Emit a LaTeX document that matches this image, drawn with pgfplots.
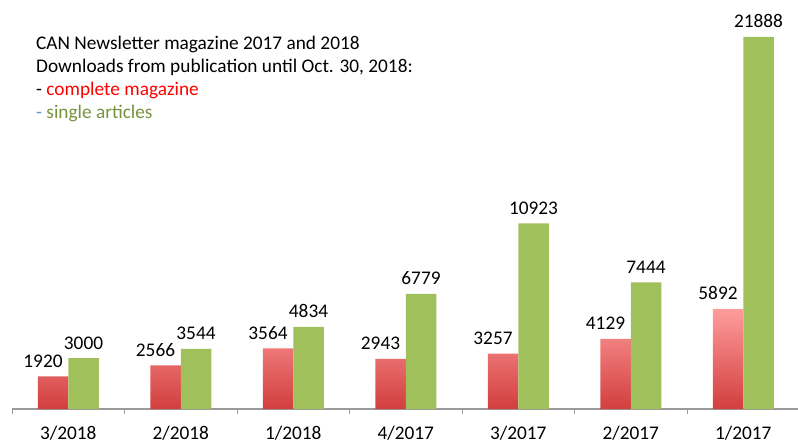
\documentclass[border=0pt]{standalone}
\usepackage{pgfplots}
\pgfplotsset{compat=1.18}
\usepackage{fontspec}
\setmainfont{Carlito}
\definecolor{barredtop}{HTML}{FF9C9C}
\definecolor{barredbot}{HTML}{D23E3E}
\definecolor{bargreen}{HTML}{9FC05A}
\definecolor{axisgray}{HTML}{9A9A9A}
\definecolor{txtred}{HTML}{FF0000}
\definecolor{txtgreen}{HTML}{77933C}
\definecolor{txtblue}{HTML}{4F9BD9}
\begin{document}
\begin{tikzpicture}[x=1pt,y=1pt]
\useasboundingbox (0,0) rectangle (798,445);
\begin{axis}[
  at={(12pt,36pt)}, anchor=south west,
  scale only axis, width=786pt, height=409pt,
  xmin=-0.5, xmax=6.4867, ymin=0, ymax=24064,
  hide y axis,
  axis x line*=bottom,
  x axis line style={-, draw=axisgray, line width=1.5pt},
  xtick={0,...,6},
  xticklabels={3/2018,2/2018,1/2018,4/2017,3/2017,2/2017,1/2017},
  major tick length=0pt,
  extra x ticks={-0.5,0.5,1.5,2.5,3.5,4.5,5.5},
  extra x tick labels={},
  extra x tick style={major tick length=5pt, tick align=outside, tick style={draw=axisgray, line width=1pt}},
  xticklabel style={font=\fontsize{19.3}{22}\selectfont, anchor=base, yshift=-30pt},
  ybar, ybar=0pt, bar width=30.5pt,
  clip=false,
  /pgf/number format/assume math mode=true,
  /pgf/number format/1000 sep={},
  nodes near coords,
  every node near coord/.append style={font=\fontsize{19.3}{22}\selectfont, text=black, anchor=base, yshift=9pt},
]
\addplot[draw=none, top color=barredtop, bottom color=barredbot,
  every node near coord/.append style={xshift=-10pt}]
  coordinates {(0,1920) (1,2566) (2,3564) (3,2943) (4,3257) (5,4129) (6,5892)};
\addplot[draw=none, fill=bargreen]
  coordinates {(0,3000) (1,3544) (2,4834) (3,6779) (4,10923) (5,7444) (6,21888)};
\end{axis}
\begin{scope}[every node/.style={anchor=base west, inner sep=0pt, font=\fontsize{19.3}{22}\selectfont}]
\node at (36,395) {CAN Newsletter magazine 2017 and 2018};
\node at (36,372) {Downloads from publication until Oct. 30, 2018:};
\node at (36,349) {- \textcolor{txtred}{complete magazine}};
\node at (36,326) {\textcolor{txtblue}{-} \textcolor{txtgreen}{single articles}};
\end{scope}
\end{tikzpicture}
\end{document}
